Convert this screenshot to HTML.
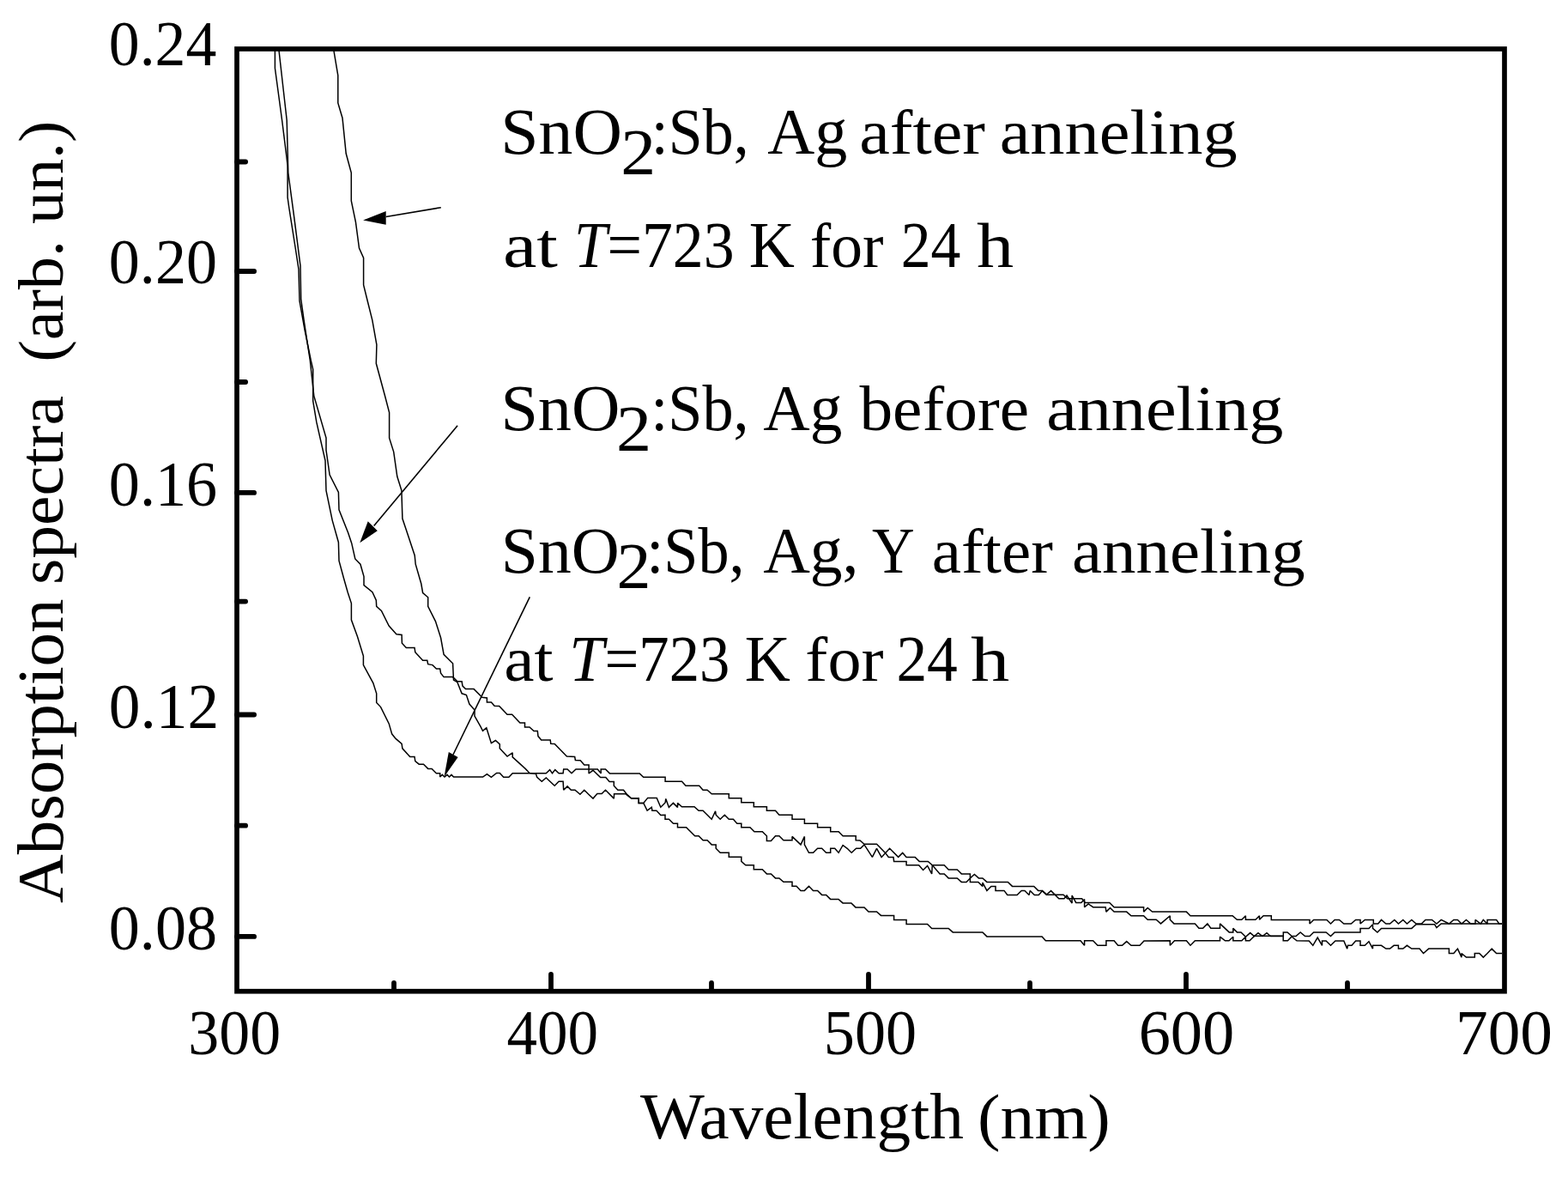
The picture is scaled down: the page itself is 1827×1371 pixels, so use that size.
<!DOCTYPE html><html><head><meta charset="utf-8"><style>html,body{margin:0;padding:0;background:#fff;overflow:hidden}svg{display:block}</style></head><body>
<svg width="1827" height="1371" viewBox="0 0 1827 1371">
<rect width="1827" height="1371" fill="#fff"/>
<g fill="none" stroke="#000" stroke-width="1.5" stroke-linejoin="miter" stroke-miterlimit="2">
<polyline points="388.6,57 393.8,87.9 393.8,120 399,137.5 403.2,178.8 409.3,201.3 409.3,234 414.4,258.5 418.5,289.1 423.6,300.4 423.6,332 428.7,352.5 433.8,372.9 438.9,401.5 438.3,423.3 448.5,461 453.6,480.5 453.6,510.1 458.7,526.4 462.8,555 467.9,571.4 468.9,604.1 473,616.3 483.2,647 484.2,657.2 490.8,680 492.6,690.5 498.7,695.8 498.7,706.3 507.5,723.8 513.6,743 517.1,762.3 527.6,772.8 528.5,792.1 532.9,794.7 538.1,807.8 543.4,809.6 546.9,820.1 553,827.1 553,834.1 560,846.4 562.5,851.4 566.8,847.7 572.4,865.6 577.4,862.5 582.3,866.9 582.3,871.8 591,881.1 597.2,876.8 597.2,881.8 612.1,895.4 617,900.4 624.5,901.6 625.7,905.3 631.3,910.3 636.3,906 646.2,915.2 651.1,910.3 656.1,910.3 656.7,920.2 661.1,915.9 665.4,920.2 670,920.2 675.9,925.2 680.8,920.2 685.8,925.2 691,930.1 695.9,924.5 701.2,924.5 705.5,920.2 715.3,930.1 715.6,924.8 729.1,924.8 735.7,930.1 744.2,930.1 744.2,935.4 749.8,935.4 754.7,929.4 765.2,929.4 769.8,940.3 775.1,935 775.8,930.4 779.4,940.4 784.5,935.4 789.5,940.4 789.5,935.4 794.5,939.8 809,939.8 814.1,944.2 819.1,944.2 829.2,954.3 833.6,944.8 834.2,949.2 839.2,954.3 844.3,949.2 849.3,954.3 854.4,954.3 858.8,959.3 863.8,959.3 863.8,963.7 873.9,963.7 878.9,968.8 888.3,968.8 893.4,973.8 893.4,979.5 898.4,979.5 903.5,973.8 907.9,973.8 912.9,978.8 923,978.8 923,974.4 933,983.9 937.4,974.4 937.4,983.9 942.5,993.3 947.5,993.3 952.6,988.3 957.6,988.3 962.6,993.3 967.7,993.3 967.7,988.3 972.7,988.3 977.1,993.3 982.1,984.5 987.2,988.3 992.2,993.3 997.6,988.3 1002.6,988.3 1007,983.9 1016.4,998.4 1021.5,988.3 1027.1,998.4 1036.6,988.3 1046.7,998.4 1051.7,993.4 1056.1,998.4 1066.2,998.4 1071.2,1003.4 1081.3,1003.4 1086.3,1007.8 1095.1,1017.9 1100.2,1017.9 1105.2,1022.9 1115.3,1022.9 1120.3,1027.4 1126,1027.4 1130.4,1022.9 1130.4,1027.4 1139.8,1027.4 1144.9,1032.4 1144.9,1028 1149.9,1037.4 1154.9,1032.4 1160,1032.4 1160,1037.4 1170,1037.4 1173.8,1042.5 1185.1,1042.5 1190.2,1037.4 1194,1037.4 1199,1042.5 1200.3,1037.4 1205.3,1042.5 1210.3,1042.5 1214.6,1037.6 1219.2,1042.2 1224.6,1037.6 1233.8,1046.8 1239.9,1046.8 1243,1043 1249.1,1052.1 1249.1,1043 1253.7,1051.4 1259.8,1051.4 1263.6,1047.5 1263.6,1056.7 1268.2,1052.9 1273.6,1056.7 1288.2,1056.7 1288.9,1062.1 1293.5,1057.5 1298.1,1062.1 1312.7,1062.1 1318,1066.7 1332.6,1066.7 1337.2,1071.3 1347.2,1071.3 1352.5,1075.9 1363.3,1066.7 1363.3,1071.3 1367.9,1075.9 1392.4,1075.9 1397,1081.3 1401.6,1081.3 1406.9,1075.9 1410.8,1081.3 1421.5,1081.3 1421.5,1075.9 1432.2,1085.9 1436.8,1085.9 1436.8,1081.3 1441.4,1085.9 1446,1085.9 1451.4,1091.2 1456.7,1086.6 1461.3,1090.5 1466,1086.6 1471,1090.5 1476,1086.6 1480.5,1090.5 1495.3,1090.6 1495.3,1086 1500,1086 1505.3,1090.6 1510,1090.6 1515.2,1086 1520.6,1090.6 1526,1090.6 1530.6,1086 1545.1,1086 1550.5,1090.6 1555.1,1086 1585,1086 1585,1081.4 1595,1081.4 1599.5,1076.8 1599.5,1081.4 1604.9,1086 1609.5,1081.4 1644.8,1081.4 1650.1,1076.8 1671.6,1076.8 1673.9,1080.6 1679.2,1076 1750,1076"/>
<polyline points="324.8,57 334.2,140 335.8,201.3 342.9,254.4 350,309.6 350.7,348.4 354.1,372.9 361.3,420 365.8,461.1 380,510.1 380,524.4 384.1,553 394.4,573.4 395,593.9 405.6,620.4 409.7,632.7 413.8,651 419.9,657.2 424,671.5 424,681.7 433.9,689.6 438.3,699.3 438.7,706.3 444.4,711.5 453.2,729 461.9,738.7 468.1,739.5 468.4,749.2 473.3,754.4 483,754.4 483.8,759.7 492.6,769.3 497.8,769.3 498.7,773.7 504,774.6 508.4,779 512.7,779 513.6,784.2 517.1,788.6 527.6,788.6 532.9,793.8 538.1,793.8 539,799.1 542.5,802.6 552.1,802.6 561.8,812.2 567.4,812.9 567.4,817.9 572.4,817.9 576.1,822.2 581.7,822.5 591,832.2 596.6,832.2 605.9,842.1 611.5,842.1 611.5,847 617,847 622,851.6 626.3,851.6 627,857.6 630.7,861.9 641.2,861.9 641.8,866.3 646.2,866.6 660.4,881.1 669.7,881.5 670.4,885.5 676.2,885.8 680.8,891 686.1,891 686.1,900.9 691,897.3 699.6,905.5 705.8,905.5 710.1,910.4 715.3,910.4 715.3,915.3 719.9,920.2 726.5,920.2 730.4,925.2 735.7,930.1 744.2,930.1 744.2,935.4 749.8,935.4 754.1,944.2 759.3,940.3 759.9,944.2 764.9,944.2 769.8,949.5 775,949.2 775,954.3 779.4,954.3 784.5,959.3 789.5,959.3 789.5,963.7 799.6,963.7 809.7,973.8 814.1,973.8 819.1,978.8 824.1,978.8 829.2,983.9 834.2,983.9 834.2,988.3 839.2,993.3 849.3,993.3 849.3,998.3 863.8,998.3 863.8,1003.4 868.8,1007.8 878.3,1007.8 878.3,1012.8 888.3,1012.8 893.4,1017.9 898.4,1017.9 903.5,1022.9 907.9,1022.9 912.9,1027.3 923,1027.3 923,1032.3 928,1032.3 933,1037.4 937.4,1037.4 942.5,1032.3 947.5,1037.4 952.6,1037.4 957.6,1042.4 962.6,1042.4 967.6,1047.4 977,1047.4 982,1051.9 991.9,1051.9 996.9,1056.9 1007,1056.9 1012,1062 1021.5,1062 1026.5,1066.4 1041.6,1066.4 1041.6,1071.4 1056.1,1071.4 1056.1,1076.5 1080.6,1076.5 1085.7,1081.5 1105.2,1081.5 1110.2,1085.9 1144.9,1085.9 1149.9,1090.9 1214.1,1090.9 1218.4,1095.8 1259,1095.8 1263.6,1101.2 1263.6,1095.8 1273.6,1095.8 1279,1101.2 1288.9,1101.2 1288.9,1095.8 1298.1,1095.8 1302.7,1101.2 1307.5,1101.2 1312.7,1096.6 1318,1101.2 1328,1101.2 1333,1096 1363.3,1095.8 1363.3,1101.2 1368.5,1095.8 1382.4,1095.8 1387,1101.2 1392.4,1095.8 1421.5,1095.8 1421.5,1091.2 1427.5,1095.8 1432,1095.8 1436.8,1091.2 1436.8,1095.8 1446.8,1095.8 1451.4,1091.2 1451.4,1095.8 1456,1095.8 1461.7,1090.2 1495.2,1090.2 1495.2,1095.8 1500.4,1095.8 1505,1090.9 1511,1095.8 1525.2,1096 1529.8,1101.3 1535.2,1092.1 1540.5,1101.3 1540.5,1096 1545.1,1096 1550.5,1101.3 1555.9,1096 1565.8,1096 1569.7,1105.1 1570.4,1101.3 1575,1101.3 1579.6,1096 1585,1096 1585,1101.3 1590.3,1101.3 1595,1096.7 1599.5,1105.1 1599.5,1101.3 1609.5,1101.3 1614.9,1105.1 1619.5,1105.1 1624.1,1101.3 1629.4,1101.3 1629.4,1105.1 1634.8,1105.1 1639.4,1101.3 1644.8,1105.1 1654,1105.1 1658.5,1110.5 1664.7,1105.1 1688.4,1105.1 1688.4,1110.5 1693.8,1110.5 1698.4,1105.1 1703,1115.1 1703,1110.5 1708.4,1115.1 1718.3,1115.1 1718.3,1110.5 1723.7,1110.5 1728.3,1115.1 1733,1110.5 1738.2,1105.1 1743.6,1110.5 1750,1110.5"/>
<polyline points="320.4,57 320.4,79.3 328.6,140 333.7,180.9 335.1,193 335.1,229.9 336.8,242 343.9,287 348,313.6 349,350.4 355.2,385 362.3,420 364.7,430.4 364.7,467.2 368.8,491.7 379,536.7 380,571.4 387.2,606.1 394.4,631.7 395,653.1 400.5,673.5 405.2,690 409.4,702.8 409.4,722 416.4,741.3 423.4,764.1 423.4,774.6 434.8,795.6 438.7,807.8 438.7,818.4 443.6,823.6 453.2,842.9 456.7,855.1 461.1,860.4 468.1,866.5 468.9,871.8 477.7,881.4 483,881.4 483.8,886.7 488.2,890.2 493.5,890.2 498.7,895.4 503.1,895.4 508.4,900.7 512.7,900.7 512.7,905 515.3,902.4 518,905 521,902.4 523.5,905 526,902.4 528.5,905 562.6,905 567.4,901.6 572.4,905.3 578.6,900.4 582.3,900.4 586.7,905.3 592.9,905.3 597.2,900.7 636.3,900.7 640.6,896.6 643.5,900.7 646.8,896.6 651.1,900.7 656.1,900.7 656.7,896 661.1,896 666,900.7 671,896 696.3,896 700.2,900.9 700.2,896 705.5,896 710.4,900.9 745.2,900.9 749.7,905.3 775.1,905.3 775.1,910.3 794.5,910.2 799,915.3 814.7,915.3 819.1,920.3 824.1,920.3 829.2,924.7 849.3,924.7 849.3,929.7 863.8,929.7 863.8,934.8 878.3,934.8 878.3,939.8 893.4,939.8 893.4,944.2 903.5,944.2 907.9,949.2 923,949.2 923,954.3 937.4,954.3 937.4,959.3 952.6,959.3 952.6,963.7 967.7,963.7 967.7,968.8 977.1,968.8 982.1,973.8 997.2,973.8 997.2,978.8 1002,978.9 1007,983.3 1021.5,983.3 1031.5,993.4 1035.3,998.4 1041,998.4 1041.6,1003.4 1056.1,1003.4 1056.1,1007.8 1070.6,1007.8 1075.6,1013.5 1080.6,1008.5 1085.7,1017.9 1086.3,1007.8 1100.2,1007.8 1105.2,1012.9 1115.3,1012.9 1120.3,1017.9 1130.4,1017.9 1130.4,1022.9 1135.4,1018.5 1140.4,1022.9 1144.9,1022.9 1149.9,1027.4 1174.4,1027.4 1179.5,1032.4 1204.7,1032.4 1209.7,1037.4 1214.1,1037.4 1220,1042.2 1239.1,1042.2 1243.7,1046.8 1260.6,1046.8 1264.4,1051.4 1292.8,1051.4 1298.1,1056.7 1332.6,1056.7 1332.6,1062.1 1337.2,1057.5 1342.6,1062.1 1382.4,1062.1 1387,1066.7 1436.1,1066.7 1441.4,1071.3 1446.8,1071.3 1451.4,1066.7 1451.4,1071.3 1462.9,1071.3 1467.5,1066.7 1467.5,1071.3 1472.1,1066.7 1481.3,1066.7 1481.3,1071.4 1526,1071.4 1526,1076 1530.6,1071.4 1545.9,1071.4 1550.5,1076 1555.1,1071.4 1560.5,1071.4 1565.8,1076 1574.3,1076 1579.6,1071.4 1585,1071.4 1585,1076 1590.3,1071.4 1600.3,1071.4 1600.3,1076 1605.7,1076 1609.5,1071.4 1614.9,1076 1619.5,1076 1624.8,1071.4 1629.4,1076 1634.8,1071.4 1639.4,1076 1644.8,1071.4 1650.1,1076 1656.3,1076 1660.9,1071.4 1668.5,1071.4 1673.9,1076 1679.2,1071.4 1688.4,1076 1693.8,1071.4 1698.4,1071.4 1703,1076 1708.4,1071.4 1713.7,1076 1719,1076 1719,1071.4 1725.3,1076 1728.3,1071.4 1733,1076 1733,1071.4 1743.6,1071.4 1746.7,1076 1750,1076"/>
</g>
<g stroke="#000" stroke-width="1.6" fill="#000">
<line x1="513.8" y1="241.7" x2="449.7" y2="252.5"/>
<polygon stroke="none" points="423.1,256.5 449.7,246 449.7,261.8"/>
<line x1="533.1" y1="495.8" x2="435.7" y2="612.4"/>
<polygon stroke="none" points="419.3,632.3 428.7,607.2 439.8,618.3"/>
<line x1="617.3" y1="695.4" x2="528" y2="879"/>
<polygon stroke="none" points="517.5,904.9 522.8,876 533.6,882.1"/>
</g>
<rect x="276" y="57" width="1477" height="1097.7" fill="none" stroke="#000" stroke-width="5.7"/>
<g stroke="#000" stroke-width="5.8" stroke-linecap="round"><line x1="276" y1="316" x2="296.1" y2="316"/><line x1="276" y1="573.9" x2="296.1" y2="573.9"/><line x1="276" y1="832.5" x2="296.1" y2="832.5"/><line x1="276" y1="1090.9" x2="296.1" y2="1090.9"/><line x1="276" y1="188.5" x2="286.1" y2="188.5"/><line x1="276" y1="445" x2="286.1" y2="445"/><line x1="276" y1="700.6" x2="286.1" y2="700.6"/><line x1="276" y1="961.7" x2="286.1" y2="961.7"/><line x1="642" y1="1154" x2="642" y2="1134.9"/><line x1="1012" y1="1154" x2="1012" y2="1134.9"/><line x1="1382" y1="1154" x2="1382" y2="1134.9"/><line x1="459" y1="1154" x2="459" y2="1144.9"/><line x1="829" y1="1154" x2="829" y2="1144.9"/><line x1="1200" y1="1154" x2="1200" y2="1144.9"/><line x1="1570" y1="1154" x2="1570" y2="1144.9"/></g>
<g font-family="'Liberation Serif', serif" fill="#000"><text x="126.83" y="76.00" font-size="75" textLength="125.44" lengthAdjust="spacingAndGlyphs">0.24</text><text x="126.82" y="330.00" font-size="75" textLength="126.17" lengthAdjust="spacingAndGlyphs">0.20</text><text x="126.81" y="589.00" font-size="75" textLength="126.35" lengthAdjust="spacingAndGlyphs">0.16</text><text x="126.77" y="847.50" font-size="75" textLength="128.26" lengthAdjust="spacingAndGlyphs">0.12</text><text x="126.82" y="1106.00" font-size="75" textLength="126.17" lengthAdjust="spacingAndGlyphs">0.08</text><text x="219.31" y="1228.30" font-size="75" textLength="107.77" lengthAdjust="spacingAndGlyphs">300</text><text x="590.48" y="1228.30" font-size="75" textLength="106.56" lengthAdjust="spacingAndGlyphs">400</text><text x="959.87" y="1228.30" font-size="75" textLength="108.21" lengthAdjust="spacingAndGlyphs">500</text><text x="1326.65" y="1228.30" font-size="75" textLength="111.63" lengthAdjust="spacingAndGlyphs">600</text><text x="1696.01" y="1228.30" font-size="75" textLength="112.90" lengthAdjust="spacingAndGlyphs">700</text><text x="583.32" y="179.00" font-size="76" textLength="141.63" lengthAdjust="spacingAndGlyphs">SnO</text><text x="723.32" y="203.00" font-size="76" textLength="40.88" lengthAdjust="spacingAndGlyphs">2</text><text x="758.86" y="179.00" font-size="76" textLength="113.74" lengthAdjust="spacingAndGlyphs">:Sb,</text><text x="894.24" y="179.00" font-size="76" textLength="93.07" lengthAdjust="spacingAndGlyphs">Ag</text><text x="1001.30" y="179.00" font-size="73" textLength="146.63" lengthAdjust="spacingAndGlyphs">after</text><text x="1164.68" y="179.00" font-size="73" textLength="276.99" lengthAdjust="spacingAndGlyphs">anneling</text><text x="585.90" y="311.40" font-size="73" textLength="64.00" lengthAdjust="spacingAndGlyphs">at</text><text x="668.91" y="311.40" font-size="76" font-style="italic" textLength="38.43" lengthAdjust="spacingAndGlyphs">T</text><text x="707.41" y="311.40" font-size="76" textLength="148.19" lengthAdjust="spacingAndGlyphs">=723</text><text x="872.79" y="311.40" font-size="76" textLength="53.10" lengthAdjust="spacingAndGlyphs">K</text><text x="943.69" y="311.40" font-size="73" textLength="85.72" lengthAdjust="spacingAndGlyphs">for</text><text x="1049.66" y="311.40" font-size="76" textLength="69.68" lengthAdjust="spacingAndGlyphs">24</text><text x="1138.14" y="311.40" font-size="73" textLength="43.16" lengthAdjust="spacingAndGlyphs">h</text><text x="583.42" y="501.20" font-size="76" textLength="138.97" lengthAdjust="spacingAndGlyphs">SnO</text><text x="718.10" y="524.90" font-size="76" textLength="41.13" lengthAdjust="spacingAndGlyphs">2</text><text x="758.22" y="501.20" font-size="76" textLength="114.40" lengthAdjust="spacingAndGlyphs">:Sb,</text><text x="889.25" y="501.20" font-size="76" textLength="92.05" lengthAdjust="spacingAndGlyphs">Ag</text><text x="1001.40" y="501.20" font-size="73" textLength="197.61" lengthAdjust="spacingAndGlyphs">before</text><text x="1219.19" y="501.20" font-size="73" textLength="276.08" lengthAdjust="spacingAndGlyphs">anneling</text><text x="583.86" y="666.60" font-size="76" textLength="137.90" lengthAdjust="spacingAndGlyphs">SnO</text><text x="718.40" y="685.40" font-size="76" textLength="40.00" lengthAdjust="spacingAndGlyphs">2</text><text x="753.22" y="666.60" font-size="76" textLength="114.40" lengthAdjust="spacingAndGlyphs">:Sb,</text><text x="889.14" y="666.60" font-size="76" textLength="111.36" lengthAdjust="spacingAndGlyphs">Ag,</text><text x="1016.11" y="666.60" font-size="76" textLength="49.66" lengthAdjust="spacingAndGlyphs">Y</text><text x="1085.81" y="666.60" font-size="73" textLength="141.00" lengthAdjust="spacingAndGlyphs">after</text><text x="1249.04" y="666.60" font-size="73" textLength="271.71" lengthAdjust="spacingAndGlyphs">anneling</text><text x="587.22" y="793.00" font-size="73" textLength="57.31" lengthAdjust="spacingAndGlyphs">at</text><text x="663.27" y="793.00" font-size="76" font-style="italic" textLength="40.45" lengthAdjust="spacingAndGlyphs">T</text><text x="704.47" y="793.00" font-size="76" textLength="145.89" lengthAdjust="spacingAndGlyphs">=723</text><text x="867.79" y="793.00" font-size="76" textLength="53.10" lengthAdjust="spacingAndGlyphs">K</text><text x="938.36" y="793.00" font-size="73" textLength="91.10" lengthAdjust="spacingAndGlyphs">for</text><text x="1044.38" y="793.00" font-size="76" textLength="71.49" lengthAdjust="spacingAndGlyphs">24</text><text x="1131.09" y="793.00" font-size="73" textLength="45.26" lengthAdjust="spacingAndGlyphs">h</text><text x="745.90" y="1326.20" font-size="76" textLength="376.97" lengthAdjust="spacingAndGlyphs">Wavelength</text><text x="1139.12" y="1326.20" font-size="73" textLength="154.67" lengthAdjust="spacingAndGlyphs">(nm)</text></g>
<g font-family="'Liberation Serif', serif" fill="#000" transform="rotate(-90)"><text x="-1051.99" y="72.50" font-size="76" textLength="354.27" lengthAdjust="spacingAndGlyphs">Absorption</text><text x="-681.11" y="72.50" font-size="73" textLength="220.01" lengthAdjust="spacingAndGlyphs">spectra</text><text x="-421.63" y="72.50" font-size="73" textLength="281.09" lengthAdjust="spacingAndGlyphs">(arb. un.)</text></g>
</svg></body></html>
